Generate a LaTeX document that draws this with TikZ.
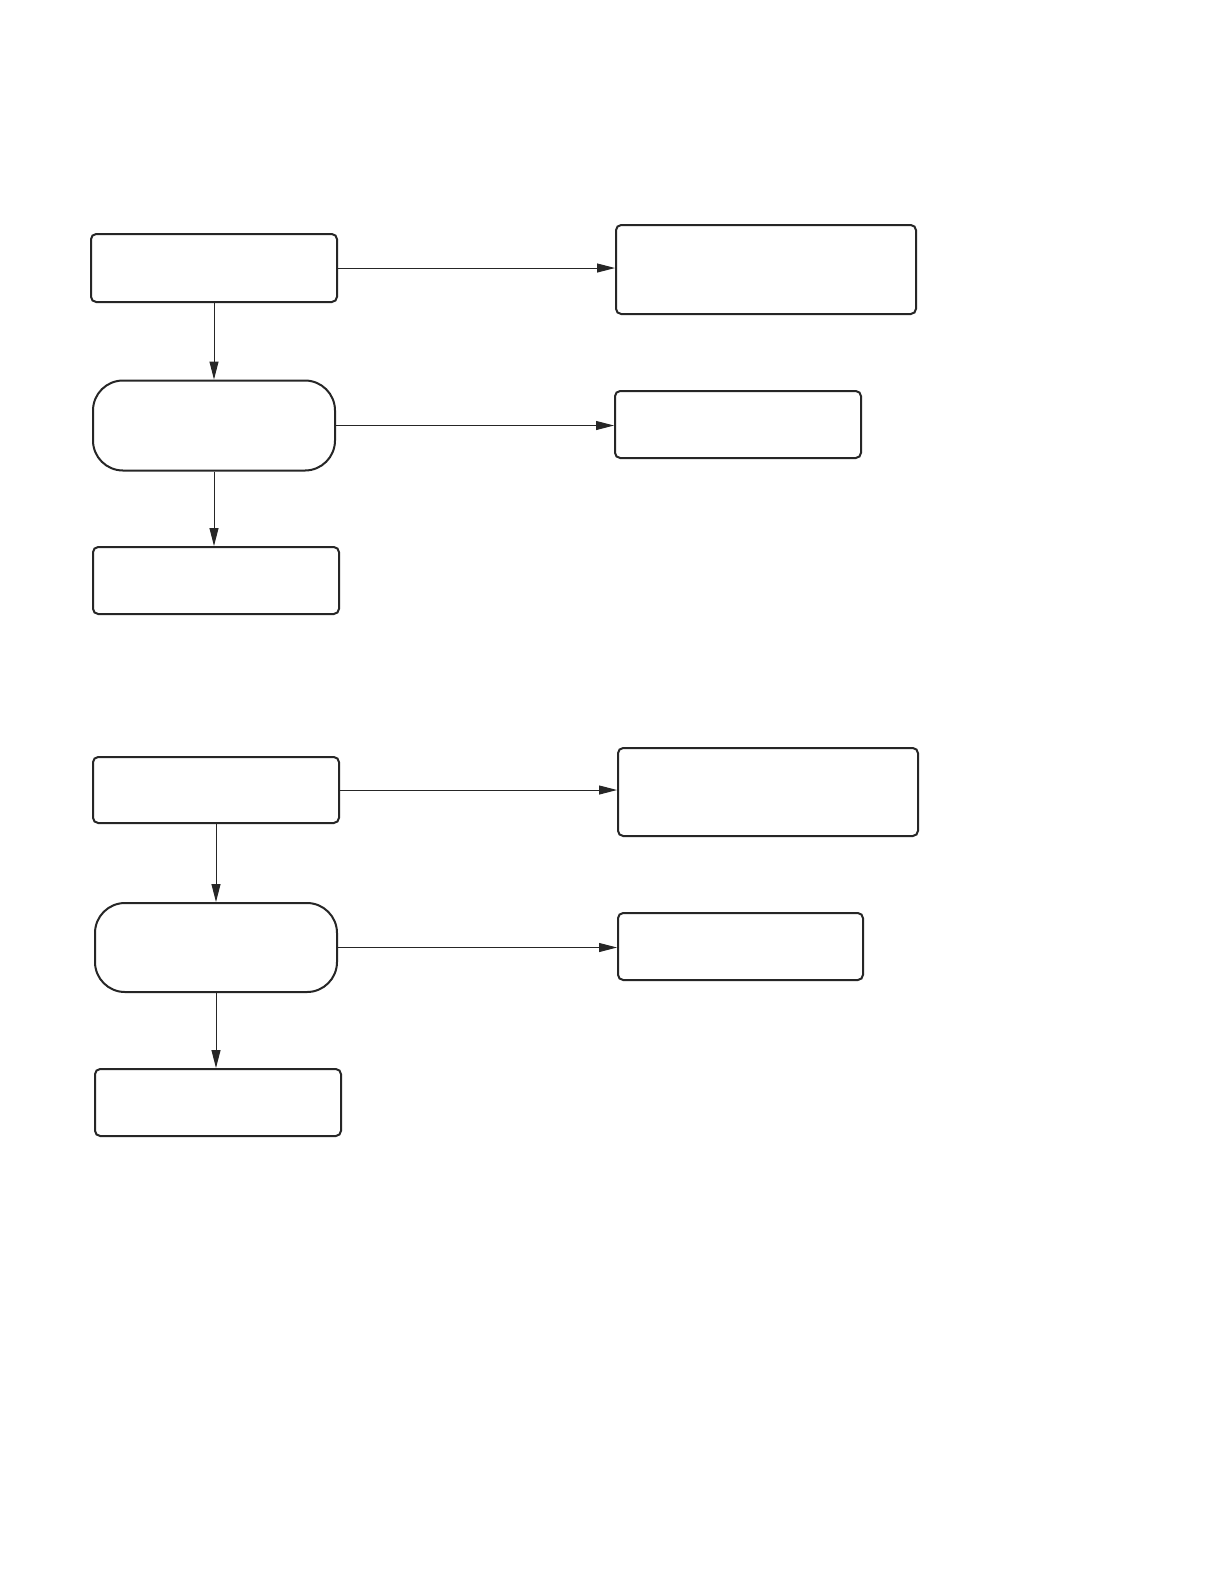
\documentclass[tikz,border=0pt]{standalone}
\usetikzlibrary{arrows.meta}
\begin{document}
\begin{tikzpicture}[x=0.5pt,y=-0.5pt,
  box/.style={draw=black!85,line width=1pt,rounded corners=2.6pt,inner sep=0pt,fill=white},
  pill/.style={draw=black!85,line width=1pt,rounded corners=15pt,inner sep=0pt,fill=white},
  conn/.style={draw=black!85,line width=0.5pt,-{Triangle[length=9pt,width=4.5pt]}}]
\path[use as bounding box,fill=white] (0,0) rectangle (1219,1587);
% group 1
\node[box,minimum width=123pt,minimum height=34pt] (a1) at (214,268) {};
\node[box,minimum width=150pt,minimum height=44.5pt] (b1) at (766,269.5) {};
\node[pill,minimum width=121pt,minimum height=45pt] (c1) at (214,425.5) {};
\node[box,minimum width=123pt,minimum height=33.5pt] (d1) at (738,424.5) {};
\node[box,minimum width=123pt,minimum height=33.5pt] (e1) at (216,580.5) {};
\draw[conn] (a1.east) -- (a1.east -| b1.west);
\draw[conn] (a1.south) -- (a1.south |- c1.north);
\draw[conn] (c1.east) -- (c1.east -| d1.west);
\draw[conn] (c1.south) -- (c1.south |- e1.north);
% group 2
\node[box,minimum width=123pt,minimum height=33pt] (a2) at (216,790) {};
\node[box,minimum width=150pt,minimum height=44pt] (b2) at (768,792) {};
\node[pill,minimum width=121pt,minimum height=44.5pt] (c2) at (216,947.5) {};
\node[box,minimum width=122.5pt,minimum height=33.5pt] (d2) at (740.5,946.5) {};
\node[box,minimum width=123pt,minimum height=33.5pt] (e2) at (218,1102.5) {};
\draw[conn] (a2.east) -- (a2.east -| b2.west);
\draw[conn] (a2.south) -- (a2.south |- c2.north);
\draw[conn] (c2.east) -- (c2.east -| d2.west);
\draw[conn] (c2.south) -- (c2.south |- e2.north);
\end{tikzpicture}
\end{document}
